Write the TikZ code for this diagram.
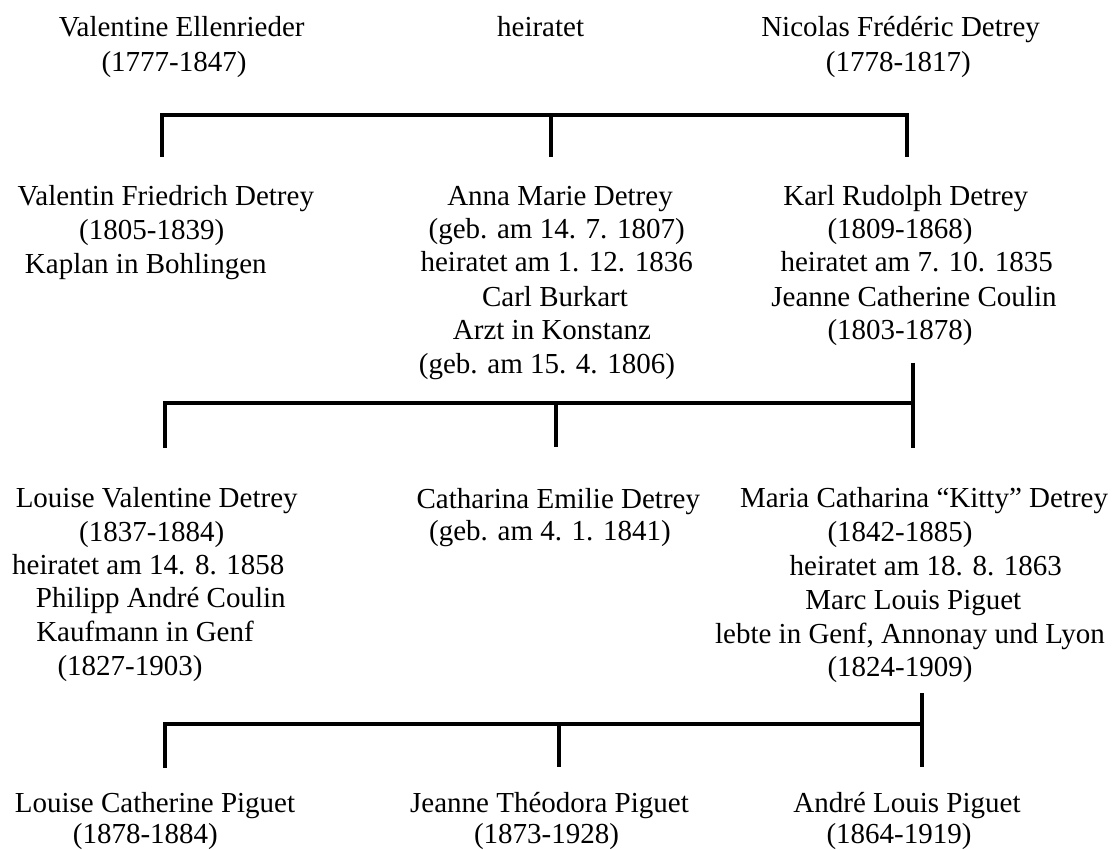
\documentclass[tikz,border=0pt]{standalone}
\usepackage{fontspec}
\setmainfont{Liberation Serif}
\begin{document}
\begin{tikzpicture}[x=1pt,y=-1pt,
  lbl/.style={anchor=base,inner sep=0pt,font=\fontsize{29}{33.5}\selectfont},
  bus/.style={line width=4pt,line join=miter}]
\useasboundingbox (0,0) rectangle (1117,850);
% generation 1
\node[lbl] (ve1) at (181.7,36.7) {Valentine Ellenrieder};
\node[lbl] (ve2) at (174,71.7) {(1777-1847)};
\node[lbl] (h0) at (540.6,36.7) {heiratet};
\node[lbl] (nf1) at (900.6,36.7) {Nicolas Frédéric Detrey};
\node[lbl] (nf2) at (898.4,71.7) {(1778-1817)};
% generation 2
\node[lbl] (vf1) at (165.8,206) {Valentin Friedrich Detrey};
\node[lbl] (vf2) at (151.7,240) {(1805-1839)};
\node[lbl] (vf3) at (145.8,274) {Kaplan in Bohlingen};
\node[lbl] (am1) at (560,205.7) {Anna Marie Detrey};
\node[lbl] (am2) at (556.7,239) {(geb. am 14. 7. 1807)};
\node[lbl] (am3) at (556.7,272) {heiratet am 1. 12. 1836};
\node[lbl] (am4) at (555,306.5) {Carl Burkart};
\node[lbl] (am5) at (552,340) {Arzt in Konstanz};
\node[lbl] (am6) at (547,373.3) {(geb. am 15. 4. 1806)};
\node[lbl] (kr1) at (905.8,205.5) {Karl Rudolph Detrey};
\node[lbl] (kr2) at (900,239) {(1809-1868)};
\node[lbl] (kr3) at (916.7,272) {heiratet am 7. 10. 1835};
\node[lbl] (kr4) at (914,306.5) {Jeanne Catherine Coulin};
\node[lbl] (kr5) at (900,340) {(1803-1878)};
% generation 3
\node[lbl] (lv1) at (156.7,507) {Louise Valentine Detrey};
\node[lbl] (lv2) at (151.7,541) {(1837-1884)};
\node[lbl] (lv3) at (148.3,574) {heiratet am 14. 8. 1858};
\node[lbl] (lv4) at (160.8,607.5) {Philipp André Coulin};
\node[lbl] (lv5) at (145,641) {Kaufmann in Genf};
\node[lbl] (lv6) at (130,675) {(1827-1903)};
\node[lbl] (ce1) at (558.3,508) {Catharina Emilie Detrey};
\node[lbl] (ce2) at (550,540) {(geb. am 4. 1. 1841)};
\node[lbl] (mc1) at (924,507) {Maria Catharina “Kitty” Detrey};
\node[lbl] (mc2) at (900,541) {(1842-1885)};
\node[lbl] (mc3) at (925.8,575.5) {heiratet am 18. 8. 1863};
\node[lbl] (mc4) at (913.3,609.5) {Marc Louis Piguet};
\node[lbl] (mc5) at (910,643) {lebte in Genf, Annonay und Lyon};
\node[lbl] (mc6) at (900,676.5) {(1824-1909)};
% generation 4
\node[lbl] (lc1) at (155,812) {Louise Catherine Piguet};
\node[lbl] (lc2) at (145.4,843) {(1878-1884)};
\node[lbl] (jt1) at (549.5,812) {Jeanne Théodora Piguet};
\node[lbl] (jt2) at (546.5,843) {(1873-1928)};
\node[lbl] (al1) at (907,812) {André Louis Piguet};
\node[lbl] (al2) at (899,843) {(1864-1919)};
% connector points
\coordinate (t1) at (162,157);
\coordinate (t2) at (551,157);
\coordinate (t3) at (906.6,157);
\coordinate (tb) at (551,115);
\coordinate (m0) at (912.7,363);
\coordinate (m1) at (165,448);
\coordinate (m2) at (555.5,447);
\coordinate (m3) at (912.7,448);
\coordinate (mb) at (555.5,403.3);
\coordinate (b0) at (922,693);
\coordinate (b1) at (164.6,768);
\coordinate (b2) at (559.3,767);
\coordinate (b3) at (922,767);
\coordinate (bb) at (559.3,723.5);
% connectors
\draw[bus] (t1) |- (tb) -| (t3);
\draw[bus] (tb) -- (t2);
\draw[bus] (m0) -- (m3);
\draw[bus] (m1) |- (mb) -- (mb -| m0);
\draw[bus] (mb) -- (m2);
\draw[bus] (b0) -- (b3);
\draw[bus] (b1) |- (bb) -- (bb -| b0);
\draw[bus] (bb) -- (b2);
\end{tikzpicture}
\end{document}
